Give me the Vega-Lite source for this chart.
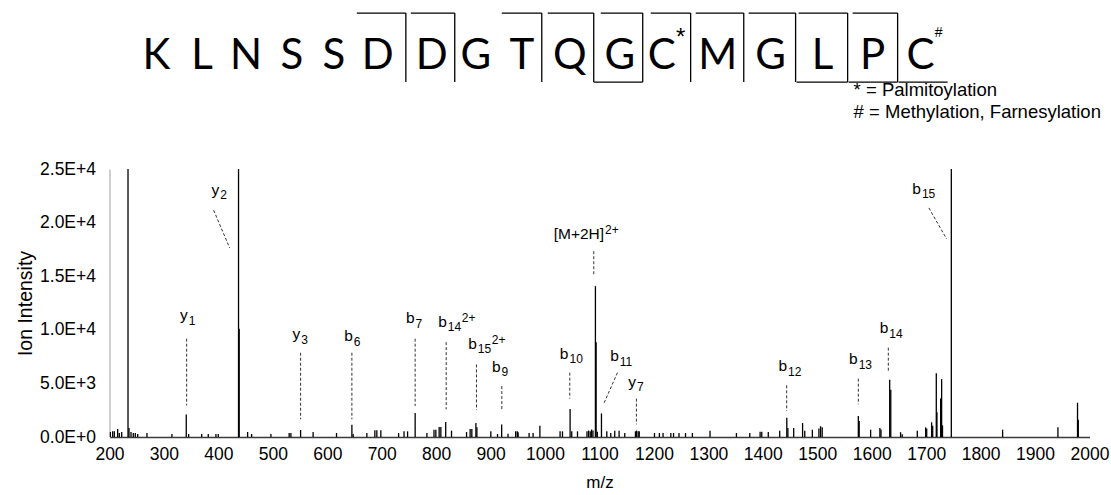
{
  "$schema": "https://vega.github.io/schema/vega-lite/v6.json",
  "background": "white",
  "padding": {"left": 15.5, "top": 5, "right": 5, "bottom": 5},
  "bounds": "flush",
  "spacing": 44,
  "config": {
    "view": {"stroke": null},
    "font": "Liberation Sans",
    "axis": {"grid": false}
  },
  "datasets": {
    "seq": [
      {"aa": "K", "pos": 4.79}, {"aa": "L", "pos": 9.43}, {"aa": "N", "pos": 13.92},
      {"aa": "S", "pos": 18.61}, {"aa": "S", "pos": 22.90}, {"aa": "D", "pos": 27.38},
      {"aa": "D", "pos": 32.89}, {"aa": "G", "pos": 37.38}, {"aa": "T", "pos": 42.07},
      {"aa": "Q", "pos": 46.97}, {"aa": "G", "pos": 52.07}, {"aa": "C", "pos": 56.35},
      {"aa": "M", "pos": 62.06}, {"aa": "G", "pos": 67.47}, {"aa": "L", "pos": 72.77},
      {"aa": "P", "pos": 77.87}, {"aa": "C", "pos": 82.77}
    ],
    "mods": [
      {"m": "*", "pos": 58.29, "v": 0.33, "size": "big"},
      {"m": "#", "pos": 84.6, "v": 0.267, "size": "small"}
    ],
    "notes": [
      {"t": "* = Palmitoylation", "pos": 75.93, "v": 0.708},
      {"t": "# = Methylation, Farnesylation", "pos": 75.93, "v": 0.892}
    ],
    "brackets": [
      {"x1": 25.24, "x2": 30.24, "y1": 0.067, "y2": 0.067},
      {"x1": 30.75, "x2": 35.23, "y1": 0.067, "y2": 0.067},
      {"x1": 40.03, "x2": 44.11, "y1": 0.067, "y2": 0.067},
      {"x1": 44.72, "x2": 49.41, "y1": 0.067, "y2": 0.067},
      {"x1": 50.13, "x2": 54.41, "y1": 0.067, "y2": 0.067},
      {"x1": 55.23, "x2": 59.30, "y1": 0.067, "y2": 0.067},
      {"x1": 59.82, "x2": 64.72, "y1": 0.067, "y2": 0.067},
      {"x1": 65.22, "x2": 70.01, "y1": 0.067, "y2": 0.067},
      {"x1": 70.32, "x2": 75.32, "y1": 0.067, "y2": 0.067},
      {"x1": 75.83, "x2": 80.42, "y1": 0.067, "y2": 0.067},
      {"x1": 30.24, "x2": 30.24, "y1": 0.067, "y2": 0.642},
      {"x1": 35.23, "x2": 35.23, "y1": 0.067, "y2": 0.642},
      {"x1": 44.11, "x2": 44.11, "y1": 0.067, "y2": 0.642},
      {"x1": 49.41, "x2": 49.41, "y1": 0.067, "y2": 0.642},
      {"x1": 54.41, "x2": 54.41, "y1": 0.067, "y2": 0.642},
      {"x1": 59.30, "x2": 59.30, "y1": 0.067, "y2": 0.642},
      {"x1": 64.72, "x2": 64.72, "y1": 0.067, "y2": 0.642},
      {"x1": 70.01, "x2": 70.01, "y1": 0.067, "y2": 0.642},
      {"x1": 75.32, "x2": 75.32, "y1": 0.067, "y2": 0.642},
      {"x1": 80.42, "x2": 80.42, "y1": 0.067, "y2": 0.642},
      {"x1": 49.41, "x2": 54.41, "y1": 0.642, "y2": 0.642},
      {"x1": 70.11, "x2": 75.32, "y1": 0.642, "y2": 0.642},
      {"x1": 75.42, "x2": 80.42, "y1": 0.642, "y2": 0.642},
      {"x1": 80.52, "x2": 85.52, "y1": 0.642, "y2": 0.642}
    ],
    "peaks": [
      {"mz": 201.5, "int": 460}, {"mz": 205.8, "int": 530}, {"mz": 208.8, "int": 530},
      {"mz": 215, "int": 745}, {"mz": 218, "int": 370}, {"mz": 222.4, "int": 460},
      {"mz": 234, "int": 25000}, {"mz": 235.8, "int": 840}, {"mz": 239.5, "int": 460},
      {"mz": 243.7, "int": 370}, {"mz": 247.4, "int": 370}, {"mz": 251.8, "int": 280},
      {"mz": 268.8, "int": 370}, {"mz": 314.7, "int": 280}, {"mz": 341, "int": 2100},
      {"mz": 345.4, "int": 280}, {"mz": 369.3, "int": 280}, {"mz": 381.4, "int": 280},
      {"mz": 395.5, "int": 280}, {"mz": 399.8, "int": 280}, {"mz": 437, "int": 25000},
      {"mz": 438.2, "int": 10100}, {"mz": 453.7, "int": 460}, {"mz": 461, "int": 280},
      {"mz": 496.5, "int": 280}, {"mz": 530, "int": 370}, {"mz": 533.2, "int": 370},
      {"mz": 551, "int": 650}, {"mz": 574, "int": 460}, {"mz": 617, "int": 370},
      {"mz": 645.2, "int": 1150}, {"mz": 647.6, "int": 280}, {"mz": 672.7, "int": 370},
      {"mz": 687.4, "int": 620}, {"mz": 691, "int": 620}, {"mz": 698.4, "int": 620},
      {"mz": 731, "int": 370}, {"mz": 741, "int": 530}, {"mz": 747.5, "int": 530},
      {"mz": 761.4, "int": 2250}, {"mz": 783, "int": 370}, {"mz": 796, "int": 680},
      {"mz": 799.4, "int": 680}, {"mz": 805.5, "int": 930}, {"mz": 808.6, "int": 930},
      {"mz": 817.5, "int": 1400}, {"mz": 828.2, "int": 590}, {"mz": 855.8, "int": 460},
      {"mz": 862.4, "int": 745}, {"mz": 865.5, "int": 745}, {"mz": 873, "int": 1300},
      {"mz": 874.8, "int": 900}, {"mz": 900.4, "int": 530}, {"mz": 912.7, "int": 280},
      {"mz": 920.3, "int": 1160}, {"mz": 932, "int": 310}, {"mz": 946, "int": 530},
      {"mz": 949, "int": 530}, {"mz": 950.5, "int": 450}, {"mz": 970.7, "int": 370},
      {"mz": 978, "int": 370}, {"mz": 990.5, "int": 1050}, {"mz": 1027.6, "int": 530},
      {"mz": 1032, "int": 530}, {"mz": 1046, "int": 2620}, {"mz": 1049, "int": 530},
      {"mz": 1059.6, "int": 530}, {"mz": 1077, "int": 530}, {"mz": 1080, "int": 600},
      {"mz": 1083, "int": 530}, {"mz": 1085.5, "int": 700}, {"mz": 1088, "int": 600},
      {"mz": 1092.5, "int": 14070}, {"mz": 1093.8, "int": 8850}, {"mz": 1096, "int": 500},
      {"mz": 1103.6, "int": 2200}, {"mz": 1113.4, "int": 530}, {"mz": 1120.7, "int": 370},
      {"mz": 1128, "int": 590}, {"mz": 1136, "int": 590}, {"mz": 1146.4, "int": 370},
      {"mz": 1166, "int": 530}, {"mz": 1168, "int": 600}, {"mz": 1171, "int": 530},
      {"mz": 1173, "int": 530}, {"mz": 1201, "int": 370}, {"mz": 1210, "int": 370},
      {"mz": 1216.7, "int": 370}, {"mz": 1231, "int": 370}, {"mz": 1236, "int": 370},
      {"mz": 1246, "int": 370}, {"mz": 1258, "int": 370}, {"mz": 1270.6, "int": 370},
      {"mz": 1303, "int": 590}, {"mz": 1351.5, "int": 370}, {"mz": 1376, "int": 370},
      {"mz": 1395, "int": 500}, {"mz": 1398, "int": 500}, {"mz": 1410, "int": 460},
      {"mz": 1431, "int": 590}, {"mz": 1444, "int": 1800}, {"mz": 1446, "int": 840},
      {"mz": 1456.7, "int": 840}, {"mz": 1473, "int": 1300}, {"mz": 1477, "int": 590},
      {"mz": 1491, "int": 680}, {"mz": 1503, "int": 800}, {"mz": 1506, "int": 1000},
      {"mz": 1509, "int": 900}, {"mz": 1575.4, "int": 1950}, {"mz": 1577, "int": 1500},
      {"mz": 1598, "int": 680}, {"mz": 1615, "int": 840}, {"mz": 1617, "int": 700},
      {"mz": 1633, "int": 5350}, {"mz": 1635, "int": 4400}, {"mz": 1653, "int": 450},
      {"mz": 1656, "int": 250}, {"mz": 1683.7, "int": 590}, {"mz": 1699, "int": 900},
      {"mz": 1701, "int": 800}, {"mz": 1710, "int": 1370}, {"mz": 1712, "int": 1050},
      {"mz": 1718.6, "int": 5950}, {"mz": 1719.8, "int": 2300}, {"mz": 1726.6, "int": 3600},
      {"mz": 1728.4, "int": 5400}, {"mz": 1730, "int": 1090}, {"mz": 1746.2, "int": 25000},
      {"mz": 1840.4, "int": 680}, {"mz": 1942, "int": 900}, {"mz": 1978, "int": 3200},
      {"mz": 1979.4, "int": 1600}
    ],
    "labels": [
      {"base": "y", "sub": "1", "sup": "", "mz": 343.6, "int": 10870},
      {"base": "y", "sub": "2", "sup": "", "mz": 401.6, "int": 22600},
      {"base": "y", "sub": "3", "sup": "", "mz": 550.3, "int": 9100},
      {"base": "b", "sub": "6", "sup": "", "mz": 647, "int": 8940},
      {"base": "b", "sub": "7", "sup": "", "mz": 760.3, "int": 10590},
      {"base": "b", "sub": "14", "sup": "2+", "mz": 819.6, "int": 10280},
      {"base": "b", "sub": "15", "sup": "2+", "mz": 874.7, "int": 8230},
      {"base": "b", "sub": "9", "sup": "", "mz": 918.2, "int": 6090},
      {"base": "[M+2H]", "sub": "", "sup": "2+", "mz": 1108.4, "int": 18510},
      {"base": "b", "sub": "10", "sup": "", "mz": 1043, "int": 7300},
      {"base": "b", "sub": "11", "sup": "", "mz": 1135.4, "int": 7080},
      {"base": "y", "sub": "7", "sup": "", "mz": 1167.2, "int": 4700},
      {"base": "b", "sub": "12", "sup": "", "mz": 1444.4, "int": 6150},
      {"base": "b", "sub": "13", "sup": "", "mz": 1574.2, "int": 6770},
      {"base": "b", "sub": "14", "sup": "", "mz": 1630.5, "int": 9660},
      {"base": "b", "sub": "15", "sup": "", "mz": 1690.4, "int": 22670}
    ],
    "leaders": [
      {"x1": 341.7, "y1": 9170, "x2": 341.7, "y2": 2950},
      {"x1": 391.3, "y1": 21150, "x2": 420.7, "y2": 17640},
      {"x1": 551, "y1": 7860, "x2": 551, "y2": 1650},
      {"x1": 645.2, "y1": 7860, "x2": 645.2, "y2": 1650},
      {"x1": 761.4, "y1": 9170, "x2": 761.4, "y2": 2890},
      {"x1": 818.4, "y1": 8850, "x2": 818.4, "y2": 2580},
      {"x1": 874, "y1": 6770, "x2": 874, "y2": 2520},
      {"x1": 920.6, "y1": 4750, "x2": 920.6, "y2": 2420},
      {"x1": 1089.5, "y1": 17330, "x2": 1089.5, "y2": 15000},
      {"x1": 1045.4, "y1": 6000, "x2": 1045.4, "y2": 3580},
      {"x1": 1133, "y1": 6000, "x2": 1107.3, "y2": 3050},
      {"x1": 1167.8, "y1": 3580, "x2": 1167.8, "y2": 1180},
      {"x1": 1443.8, "y1": 4820, "x2": 1443.8, "y2": 2420},
      {"x1": 1575.4, "y1": 5440, "x2": 1575.4, "y2": 3050},
      {"x1": 1630.5, "y1": 8330, "x2": 1630.5, "y2": 6000},
      {"x1": 1705, "y1": 21370, "x2": 1737.5, "y2": 18480}
    ]
  },
  "vconcat": [
    {
      "width": 980,
      "height": 120,
      "layer": [
        {
          "data": {"name": "brackets"},
          "mark": {"type": "rule", "color": "black", "strokeWidth": 1.3},
          "encoding": {
            "x": {"field": "x1", "type": "quantitative", "scale": {"domain": [0, 100]}, "axis": null},
            "x2": {"field": "x2"},
            "y": {"field": "y1", "type": "quantitative", "scale": {"domain": [0, 1], "reverse": true}, "axis": null},
            "y2": {"field": "y2"}
          }
        },
        {
          "data": {"name": "seq"},
          "mark": {"type": "text", "font": "Lato", "fontSize": 42, "baseline": "alphabetic", "align": "center", "color": "black"},
          "encoding": {
            "x": {"field": "pos", "type": "quantitative"},
            "y": {"datum": 0.533, "type": "quantitative"},
            "text": {"field": "aa"}
          }
        },
        {
          "data": {"name": "mods"},
          "transform": [{"filter": "datum.size == 'big'"}],
          "mark": {"type": "text", "font": "Liberation Sans", "fontSize": 24, "baseline": "alphabetic", "align": "center", "color": "black"},
          "encoding": {
            "x": {"field": "pos", "type": "quantitative"},
            "y": {"field": "v", "type": "quantitative"},
            "text": {"field": "m"}
          }
        },
        {
          "data": {"name": "mods"},
          "transform": [{"filter": "datum.size == 'small'"}],
          "mark": {"type": "text", "font": "Liberation Sans", "fontSize": 14, "baseline": "alphabetic", "align": "center", "color": "black"},
          "encoding": {
            "x": {"field": "pos", "type": "quantitative"},
            "y": {"field": "v", "type": "quantitative"},
            "text": {"field": "m"}
          }
        },
        {
          "data": {"name": "notes"},
          "mark": {"type": "text", "font": "Liberation Sans", "fontSize": 18.5, "baseline": "middle", "align": "left", "color": "black"},
          "encoding": {
            "x": {"field": "pos", "type": "quantitative"},
            "y": {"field": "v", "type": "quantitative"},
            "text": {"field": "t"}
          }
        }
      ]
    },
    {
      "width": 980,
      "height": 268,
      "layer": [
        {
          "data": {"name": "peaks"},
          "mark": {"type": "rule", "color": "black", "strokeWidth": 1.3, "clip": true},
          "encoding": {
            "x": {
              "field": "mz", "type": "quantitative",
              "scale": {"domain": [200, 2000], "nice": false, "zero": false},
              "axis": {
                "title": "m/z", "values": [200, 300, 400, 500, 600, 700, 800, 900, 1000, 1100, 1200, 1300, 1400, 1500, 1600, 1700, 1800, 1900, 2000],
                "format": "d", "labelOverlap": false, "labelFlush": false,
                "ticks": false, "labelFontSize": 17.5, "labelColor": "black", "labelPadding": 8,
                "domainColor": "#3a3a3a", "domainWidth": 1.5,
                "titleFontSize": 17, "titleFontWeight": "normal", "titleColor": "black", "titlePadding": 12
              }
            },
            "y": {
              "field": "int", "type": "quantitative",
              "scale": {"domain": [0, 25000], "nice": false},
              "axis": {
                "title": "Ion Intensity", "values": [0, 5000, 10000, 15000, 20000, 25000],
                "labelExpr": "replace(format(datum.value, '.1e'), 'e', 'E')",
                "ticks": false, "labelFontSize": 17.5, "labelColor": "black", "labelPadding": 14,
                "domainColor": "#c0c0c0", "domainWidth": 1.5,
                "titleFontSize": 19.5, "titleFontWeight": "normal", "titleColor": "black", "titlePadding": 4
              }
            },
            "y2": {"datum": 0}
          }
        },
        {
          "data": {"name": "leaders"},
          "mark": {"type": "rule", "color": "#333333", "strokeWidth": 1, "strokeDash": [3, 2]},
          "encoding": {
            "x": {"field": "x1", "type": "quantitative"},
            "x2": {"field": "x2"},
            "y": {"field": "y1", "type": "quantitative"},
            "y2": {"field": "y2"}
          }
        },
        {
          "data": {"name": "labels"},
          "mark": {"type": "text", "fontSize": 15.5, "align": "right", "baseline": "alphabetic", "color": "black"},
          "encoding": {
            "x": {"field": "mz", "type": "quantitative"},
            "y": {"field": "int", "type": "quantitative"},
            "text": {"field": "base"}
          }
        },
        {
          "data": {"name": "labels"},
          "mark": {"type": "text", "fontSize": 12, "align": "left", "baseline": "alphabetic", "dx": 1, "dy": 4.5, "color": "black"},
          "encoding": {
            "x": {"field": "mz", "type": "quantitative"},
            "y": {"field": "int", "type": "quantitative"},
            "text": {"field": "sub"}
          }
        },
        {
          "data": {"name": "labels"},
          "transform": [{"filter": "datum.sup != '' && datum.sub != ''"}],
          "mark": {"type": "text", "fontSize": 12, "align": "left", "baseline": "alphabetic", "dx": 15, "dy": -5, "color": "black"},
          "encoding": {
            "x": {"field": "mz", "type": "quantitative"},
            "y": {"field": "int", "type": "quantitative"},
            "text": {"field": "sup"}
          }
        },
        {
          "data": {"name": "labels"},
          "transform": [{"filter": "datum.sup != '' && datum.sub == ''"}],
          "mark": {"type": "text", "fontSize": 12, "align": "left", "baseline": "alphabetic", "dx": 1, "dy": -5, "color": "black"},
          "encoding": {
            "x": {"field": "mz", "type": "quantitative"},
            "y": {"field": "int", "type": "quantitative"},
            "text": {"field": "sup"}
          }
        }
      ]
    }
  ]
}
